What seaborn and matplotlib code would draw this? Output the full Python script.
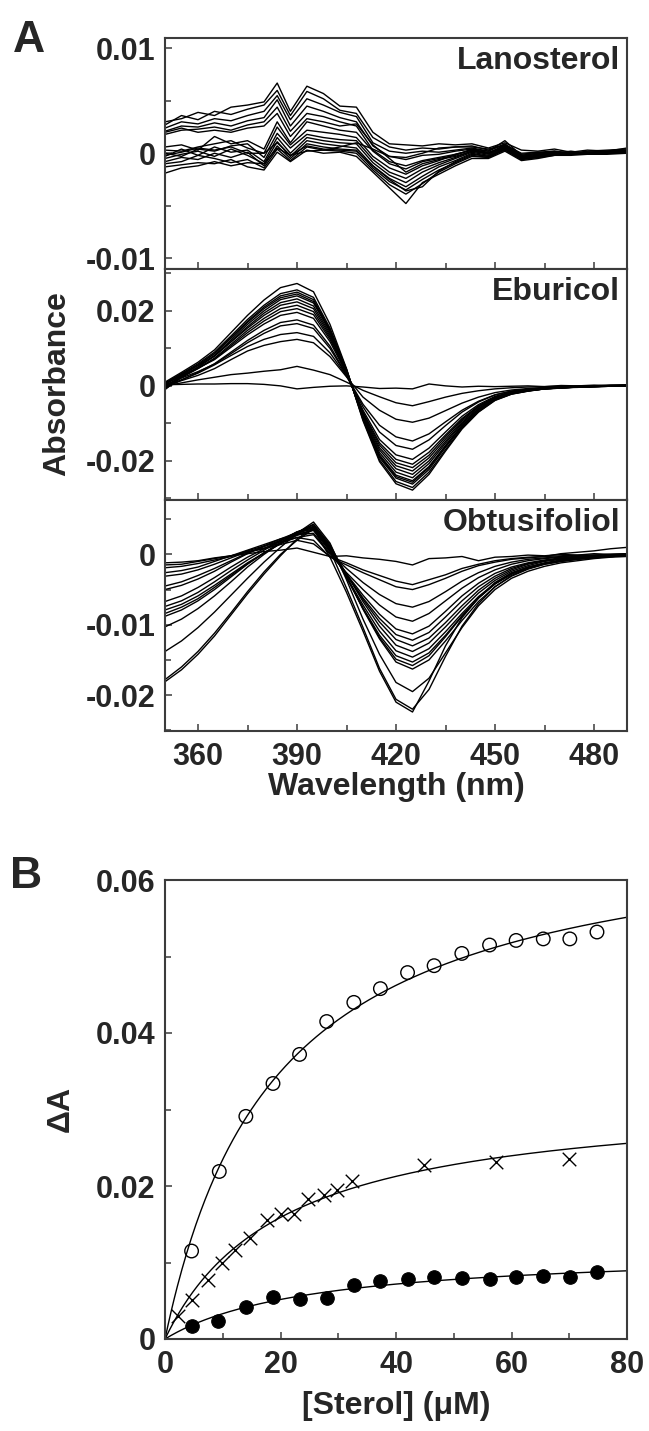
import numpy as np
import pandas as pd
import seaborn as sns
import matplotlib.pyplot as plt
from matplotlib.ticker import MultipleLocator, FuncFormatter

sns.set_style('ticks')
plt.rcParams['font.family'] = ['Liberation Sans', 'DejaVu Sans']
plt.rcParams['font.weight'] = 'bold'
plt.rcParams['axes.labelweight'] = 'bold'
plt.rcParams['axes.unicode_minus'] = False

# ---- panel A: difference spectra (values in mAbs) ----
lano_wl = [350, 355, 360, 365, 370, 375, 380, 384, 388, 393, 398, 403, 408, 413, 418,
           423, 428, 433, 438, 443, 448, 453, 458, 463, 468, 473, 478, 484, 490]
lano_curves = [
    [3.0, 3.3, 3.9, 3.6, 4.4, 4.6, 4.9, 6.7, 4.0, 6.4, 5.7, 4.5, 4.4, 2.0, 0.9, 0.8, 0.7, 0.9, 0.8, 0.9, 0.5, 1.0, 0.3, 0.2, 0.4, 0.1, 0.3, 0.2, 0.5],
    [2.7, 3.6, 3.2, 4.0, 3.7, 4.2, 4.6, 6.0, 3.6, 5.9, 5.2, 4.1, 3.8, 1.5, 0.6, 0.3, 0.5, 0.4, 0.6, 0.7, 0.3, 0.8, 0.0, 0.1, 0.2, 0.0, 0.2, 0.3, 0.4],
    [2.4, 3.0, 2.8, 3.3, 3.1, 3.6, 4.0, 5.5, 3.2, 5.2, 4.6, 3.9, 3.5, 1.0, 0.2, 0.0, 0.2, 0.1, 0.3, 0.5, 0.2, 0.9, -0.2, 0.0, 0.1, -0.1, 0.1, 0.2, 0.3],
    [2.1, 2.6, 2.5, 2.9, 2.6, 3.1, 3.4, 5.1, 2.6, 4.5, 4.0, 3.4, 3.0, 0.7, -0.3, -0.6, -0.2, -0.1, 0.2, 0.4, 0.0, 0.7, -0.3, -0.1, 0.0, 0.1, 0.0, 0.1, 0.2],
    [1.8, 2.2, 2.3, 2.5, 2.2, 2.7, 3.0, 4.4, 2.1, 3.8, 3.5, 3.0, 2.6, 0.3, -0.8, -1.2, -0.7, -0.4, -0.1, 0.3, 0.1, 0.6, -0.4, -0.2, 0.1, -0.1, 0.1, 0.0, 0.2],
    [2.0, 2.4, 2.0, 2.2, 2.0, 2.4, 2.6, 3.8, 1.6, 3.3, 3.0, 2.6, 2.8, 0.8, -0.5, -1.8, -1.0, -0.6, -0.3, 0.2, 0.0, 0.5, -0.5, -0.3, 0.0, 0.0, -0.1, 0.1, 0.1],
    [0.6, 0.8, 0.3, 1.6, 0.9, 1.2, 0.4, 3.0, 1.0, 3.0, 2.6, 2.2, 2.0, 0.2, -1.0, -1.5, -0.8, -0.5, -0.2, 0.4, 0.2, 1.2, -0.2, 0.0, 0.2, 0.0, 0.1, 0.2, 0.3],
    [0.3, 0.2, 0.6, 0.9, 1.2, 0.5, 0.0, 2.5, 0.8, 2.2, 2.0, 1.8, 1.5, -0.3, -1.4, -2.0, -1.2, -0.7, -0.1, 0.3, 0.0, 0.8, -0.3, -0.1, 0.0, 0.1, 0.0, 0.0, 0.2],
    [0.0, -0.3, 0.4, 0.2, 0.7, 0.9, -0.4, 1.9, 0.5, 1.8, 1.5, 1.3, 1.2, -0.6, -1.8, -2.4, -1.5, -0.9, -0.4, 0.2, -0.1, 0.7, -0.4, -0.2, 0.1, 0.0, -0.1, 0.1, 0.1],
    [-0.3, 0.4, -0.2, 0.6, 0.1, 0.3, -0.8, 1.5, 0.0, 1.5, 1.2, 1.0, 0.9, -0.9, -2.1, -2.8, -1.8, -1.1, -0.5, 0.1, -0.2, 0.6, -0.4, -0.3, 0.0, -0.1, 0.0, 0.0, 0.2],
    [-0.5, -0.1, 0.2, -0.3, 0.4, -0.2, -1.0, 1.1, -0.3, 1.2, 0.9, 0.7, 0.5, -1.2, -2.4, -3.2, -2.2, -1.3, -0.7, 0.0, -0.3, 0.5, -0.5, -0.3, -0.1, 0.0, -0.1, 0.1, 0.1],
    [-0.8, -0.4, -0.6, 0.0, -0.4, 0.1, -1.2, 0.7, -0.5, 0.9, 0.6, 0.4, 0.3, -1.4, -2.7, -3.5, -2.5, -1.6, -0.9, -0.2, -0.4, 0.4, -0.6, -0.4, -0.1, -0.1, 0.0, 0.0, 0.1],
    [-1.0, -0.8, -0.2, -0.5, -0.9, -0.6, -1.4, 0.4, -0.7, 0.6, 0.3, 0.2, 0.0, -1.6, -3.0, -3.9, -2.9, -1.8, -1.0, -0.3, -0.4, 0.3, -0.6, -0.4, -0.2, -0.1, -0.1, 0.0, 0.0],
    [-1.3, -1.1, -0.9, -1.0, -0.6, -1.3, -1.6, 0.1, -0.8, 0.3, 0.0, 0.1, -0.3, -1.8, -3.3, -4.8, -2.8, -2.0, -1.2, -0.5, -0.5, 0.2, -0.7, -0.5, -0.2, -0.2, -0.1, -0.1, 0.0],
    [-1.9, -1.4, -1.2, -0.8, -1.2, -0.9, -1.0, 0.5, -0.2, 0.7, 0.4, 0.3, 0.2, -1.2, -2.5, -3.6, -3.2, -1.7, -0.8, -0.1, -0.3, 0.4, -0.5, -0.3, -0.1, 0.0, -0.1, 0.0, 0.1],
    [-0.2, 0.1, 0.5, 0.3, 0.6, 0.0, 0.0, 1.0, -0.2, 0.2, 0.3, 0.6, 1.0, 0.4, -0.3, -0.4, 0.0, 0.5, 0.6, 0.6, 0.4, 0.8, -0.1, 0.1, 0.0, 0.2, 0.0, 0.1, 0.2],
]

ebu_wl = [350, 355, 360, 365, 370, 375, 380, 385, 390, 395, 400, 405, 410, 415, 420,
          425, 430, 435, 440, 445, 450, 455, 460, 465, 470, 475, 480, 485, 490]
ebu_curves = [
    [0.3, 0.4, 0.5, 0.5, 0.6, 0.6, 0.4, 0.0, -0.8, -0.4, -0.1, 0.0, -0.3, -0.7, -0.6, -0.8, 0.5, 0.0, -0.3, -0.1, -0.2, -0.1, 0.0, -0.2, 0.1, 0.0, 0.2, 0.1, 0.1],
    [0.0, 0.8, 1.6, 2.3, 3.0, 3.4, 3.9, 4.3, 5.2, 4.2, 3.0, 1.0, -1.2, -2.9, -4.5, -5.3, -4.2, -3.0, -2.0, -1.3, -0.8, -0.5, -0.3, -0.2, -0.1, 0.0, 0.0, 0.1, 0.0],
    [0.1, 1.4, 2.8, 4.6, 7.0, 9.3, 10.8, 11.8, 12.4, 11.5, 7.8, 2.4, -3.0, -6.5, -8.9, -9.7, -8.6, -6.6, -4.6, -3.0, -1.8, -1.1, -0.7, -0.4, -0.3, -0.2, -0.1, 0.0, 0.0],
    [-0.4, 1.6, 3.4, 5.6, 8.1, 10.5, 12.4, 13.7, 14.2, 13.2, 8.8, 2.6, -4.9, -10.5, -13.6, -14.7, -12.8, -9.6, -6.5, -4.1, -2.4, -1.4, -0.9, -0.6, -0.4, -0.3, -0.2, -0.1, 0.0],
    [0.2, 2.1, 3.8, 5.8, 8.6, 11.5, 14.0, 16.0, 16.6, 15.3, 10.0, 2.8, -5.6, -12.3, -15.9, -16.9, -14.4, -10.6, -7.0, -4.3, -2.4, -1.4, -0.9, -0.5, -0.3, -0.2, -0.1, 0.0, 0.1],
    [-0.6, 1.6, 3.6, 5.9, 9.0, 12.1, 14.8, 16.9, 17.6, 16.2, 10.6, 3.0, -6.5, -14.3, -18.4, -19.6, -16.6, -12.3, -8.1, -5.0, -2.8, -1.6, -1.0, -0.6, -0.4, -0.3, -0.2, -0.1, 0.0],
    [0.5, 2.7, 4.7, 7.0, 10.3, 13.6, 16.5, 18.8, 19.6, 18.0, 11.8, 3.3, -7.0, -15.2, -19.6, -20.9, -17.7, -13.1, -8.7, -5.3, -3.0, -1.7, -1.1, -0.6, -0.4, -0.2, -0.1, 0.0, -0.1],
    [-0.2, 2.5, 4.7, 7.2, 10.7, 14.2, 17.3, 19.8, 20.6, 19.0, 12.4, 3.5, -7.3, -15.8, -20.5, -21.8, -18.5, -13.6, -9.0, -5.5, -3.1, -1.8, -1.1, -0.7, -0.4, -0.3, -0.2, 0.0, 0.0],
    [-0.8, 2.2, 4.6, 7.4, 11.1, 14.8, 18.0, 20.6, 21.5, 19.8, 12.9, 3.7, -7.6, -16.5, -21.3, -22.7, -19.2, -14.2, -9.4, -5.7, -3.2, -1.8, -1.1, -0.7, -0.4, -0.2, -0.1, 0.1, 0.2],
    [0.8, 3.2, 5.4, 8.0, 11.7, 15.4, 18.8, 21.5, 22.4, 20.6, 13.4, 3.8, -7.9, -17.1, -22.1, -23.6, -20.0, -14.8, -9.8, -6.0, -3.3, -1.9, -1.2, -0.7, -0.5, -0.3, -0.2, -0.1, 0.0],
    [-0.3, 2.6, 5.0, 7.9, 11.8, 15.8, 19.4, 22.2, 23.2, 21.3, 13.9, 3.9, -8.2, -17.8, -23.0, -24.5, -20.7, -15.3, -10.1, -6.2, -3.5, -2.0, -1.2, -0.8, -0.6, -0.3, -0.2, 0.0, 0.1],
    [-1.0, 2.4, 5.0, 8.1, 12.2, 16.4, 20.0, 23.0, 24.0, 22.1, 14.4, 4.1, -8.4, -18.4, -23.8, -25.3, -21.5, -15.9, -10.5, -6.4, -3.6, -2.0, -1.3, -0.8, -0.5, -0.4, -0.2, -0.1, 0.0],
    [0.3, 3.0, 5.6, 8.6, 12.7, 16.9, 20.6, 23.5, 24.5, 22.5, 14.7, 4.2, -8.6, -18.7, -24.2, -25.7, -21.8, -16.1, -10.7, -6.5, -3.6, -2.1, -1.3, -0.8, -0.5, -0.3, -0.2, 0.0, -0.1],
    [-0.5, 2.8, 5.5, 8.6, 12.9, 17.2, 21.0, 24.0, 25.0, 23.0, 15.0, 4.3, -8.7, -19.1, -24.6, -26.2, -22.3, -16.4, -10.9, -6.6, -3.7, -2.1, -1.3, -0.8, -0.5, -0.3, -0.1, 0.0, 0.1],
    [0.6, 3.3, 5.9, 9.0, 13.3, 17.7, 21.5, 24.6, 25.6, 23.6, 15.4, 4.4, -9.0, -19.7, -25.5, -27.1, -23.0, -17.0, -11.2, -6.9, -3.8, -2.2, -1.4, -0.8, -0.5, -0.3, -0.1, 0.1, 0.2],
    [1.0, 3.6, 6.3, 9.6, 14.2, 18.8, 22.9, 26.2, 27.3, 25.1, 16.4, 4.6, -9.3, -20.2, -26.1, -27.8, -23.6, -17.4, -11.5, -7.0, -3.9, -2.2, -1.4, -0.8, -0.6, -0.3, 0.0, 0.2, 0.3],
]

obt_wl = ebu_wl
obt_curves = [
    [-1.2, -1.1, -0.9, -0.5, -0.2, 0.1, 0.4, 0.6, 0.9, 0.3, -0.3, -0.2, -0.5, -0.7, -1.0, -1.5, -0.6, -0.5, -0.3, -0.9, -0.4, -0.3, -0.1, -0.2, 0.0, -0.1, 0.1, 0.0, 0.1],
    [-1.5, -1.4, -1.0, -0.6, -0.2, 0.3, 0.8, 1.4, 2.0, 1.5, -0.3, -1.2, -2.2, -3.0, -3.8, -4.3, -3.6, -2.9, -2.0, -1.4, -0.9, -0.6, -0.4, -0.3, 0.1, 0.3, 0.5, 0.8, 1.0],
    [-1.9, -1.7, -1.3, -0.8, -0.3, 0.5, 1.2, 1.8, 2.4, 2.0, -0.4, -1.5, -2.6, -3.6, -4.6, -5.0, -4.3, -3.4, -2.4, -1.6, -1.1, -0.7, -0.5, -0.3, -0.2, -0.1, -0.1, 0.0, 0.1],
    [-2.6, -2.3, -1.8, -1.0, -0.2, 0.6, 1.4, 2.2, 2.8, 3.0, 0.2, -2.0, -4.0, -5.7, -7.0, -7.5, -6.7, -5.3, -3.8, -2.6, -1.7, -1.1, -0.7, -0.5, -0.3, -0.2, -0.1, 0.0, 0.0],
    [-3.1, -2.8, -2.2, -1.4, -0.5, 0.4, 0.9, 1.6, 2.4, 2.8, 0.0, -2.6, -5.0, -7.2, -8.9, -9.5, -8.4, -6.6, -4.8, -3.3, -2.2, -1.4, -0.9, -0.6, -0.4, -0.3, -0.2, -0.1, 0.0],
    [-4.5, -3.9, -3.0, -2.0, -0.9, 0.2, 1.1, 2.0, 2.9, 3.4, 0.4, -2.8, -5.8, -8.5, -10.6, -11.3, -10.2, -8.1, -5.9, -4.1, -2.7, -1.8, -1.2, -0.8, -0.5, -0.4, -0.3, -0.2, -0.1],
    [-5.0, -4.4, -3.5, -2.4, -1.1, 0.1, 1.2, 2.2, 3.1, 3.6, 0.6, -2.9, -6.2, -9.1, -11.4, -12.2, -11.1, -8.9, -6.6, -4.6, -3.1, -2.0, -1.3, -0.9, -0.6, -0.4, -0.3, -0.2, -0.1],
    [-6.7, -5.9, -4.7, -3.3, -1.8, -0.4, 0.8, 2.0, 3.2, 3.8, 0.9, -2.8, -6.4, -9.6, -12.1, -13.0, -11.9, -9.7, -7.3, -5.1, -3.4, -2.2, -1.4, -0.9, -0.6, -0.4, -0.3, -0.2, -0.1],
    [-7.4, -6.6, -5.4, -3.9, -2.3, -0.8, 0.6, 1.9, 3.2, 4.0, 1.1, -2.8, -6.7, -10.2, -12.9, -13.8, -12.6, -10.3, -7.8, -5.5, -3.7, -2.4, -1.6, -1.0, -0.7, -0.5, -0.3, -0.2, -0.1],
    [-7.9, -7.1, -5.9, -4.4, -2.8, -1.2, 0.2, 1.5, 2.7, 3.5, 0.8, -3.2, -7.2, -10.9, -13.7, -14.6, -13.4, -11.0, -8.4, -6.0, -4.1, -2.7, -1.8, -1.2, -0.8, -0.5, -0.4, -0.3, -0.2],
    [-8.4, -7.5, -6.3, -4.7, -3.0, -1.3, 0.2, 1.6, 2.9, 3.9, 1.0, -3.3, -7.6, -11.5, -14.4, -15.3, -14.0, -11.5, -8.7, -6.2, -4.2, -2.8, -1.9, -1.3, -0.9, -0.6, -0.4, -0.3, -0.2],
    [-8.8, -7.9, -6.6, -5.0, -3.2, -1.4, 0.2, 1.7, 3.1, 4.2, 1.2, -3.2, -7.7, -11.8, -14.9, -15.8, -14.4, -11.7, -8.8, -6.2, -4.2, -2.8, -1.9, -1.3, -0.9, -0.6, -0.4, -0.3, -0.2],
    [-10.3, -9.2, -7.7, -5.9, -3.9, -1.8, 0.0, 1.6, 3.1, 4.3, 1.4, -3.1, -7.8, -12.0, -15.3, -16.3, -15.0, -12.3, -9.4, -6.7, -4.6, -3.1, -2.1, -1.4, -1.0, -0.7, -0.5, -0.3, -0.2],
    [-13.8, -12.3, -10.4, -8.2, -5.8, -3.4, -1.1, 1.0, 3.0, 4.6, 1.6, -3.6, -9.2, -14.2, -18.2, -19.5, -17.6, -14.0, -10.4, -7.3, -5.0, -3.4, -2.4, -1.7, -1.2, -0.9, -0.6, -0.4, -0.3],
    [-18.1, -16.4, -14.2, -11.6, -8.6, -5.6, -2.8, -0.2, 2.2, 3.8, 0.6, -4.8, -10.4, -16.2, -20.6, -22.0, -19.2, -14.5, -10.2, -7.0, -4.6, -3.0, -2.0, -1.4, -1.0, -0.7, -0.5, -0.3, -0.2],
    [-17.8, -16.0, -13.8, -11.2, -8.3, -5.3, -2.5, 0.0, 2.0, 3.6, -0.4, -5.4, -10.9, -16.6, -21.0, -22.4, -18.0, -13.0, -9.0, -6.2, -4.0, -2.6, -1.8, -1.3, -0.9, -0.6, -0.4, -0.2, -0.1],
]

panel_names = ['Lanosterol', 'Eburicol', 'Obtusifoliol']

# ---- panel B: titration points ----
open_conc = [4.6, 9.4, 14.0, 18.7, 23.3, 28.0, 32.7, 37.3, 42.0, 46.6, 51.4, 56.2, 60.8, 65.5, 70.1, 74.8]
open_dA = [0.0115, 0.0219, 0.0291, 0.0334, 0.0372, 0.0415, 0.0440, 0.0458, 0.0479, 0.0488,
           0.0504, 0.0515, 0.0521, 0.0523, 0.0523, 0.0532]
filled_conc = [4.6, 9.2, 14.0, 18.7, 23.3, 28.0, 32.7, 37.3, 42.0, 46.6, 51.4, 56.2, 60.8, 65.5, 70.1, 74.8]
filled_dA = [0.0017, 0.0024, 0.0042, 0.0055, 0.0052, 0.0054, 0.0071, 0.0076, 0.0078, 0.0081,
             0.0080, 0.0079, 0.0081, 0.0083, 0.0081, 0.0087]
cross_conc = [2.2, 4.7, 7.4, 9.9, 12.2, 14.7, 17.6, 20.0, 22.3, 24.8, 27.5, 29.8, 32.3, 44.8, 57.4, 69.9]
cross_dA = [0.0030, 0.0051, 0.0077, 0.0099, 0.0116, 0.0132, 0.0155, 0.0164, 0.0164, 0.0183,
            0.0188, 0.0195, 0.0207, 0.0227, 0.0232, 0.0235]


def spectra_frame(wl, curves):
    rows = []
    for i, c in enumerate(curves):
        for w, a in zip(wl, c):
            rows.append((i, w, a / 1000.0))
    return pd.DataFrame(rows, columns=['curve', 'wl', 'A'])


def mm_fit(conc, dA):
    # least squares hyperbola: dA = Amax * c / (Kd + c)
    c = np.asarray(conc)
    y = np.asarray(dA)
    best = None
    for kd in np.linspace(0.5, 120, 2400):
        f = c / (kd + c)
        amax = (f @ y) / (f @ f)
        sse = np.sum((y - amax * f) ** 2)
        if best is None or sse < best[0]:
            best = (sse, kd, amax)
    return best[1], best[2]


def tick_fmt(v, pos):
    if abs(v) < 1e-9:
        return '0'
    return f'{v:.2f}'


def style_axes(ax):
    for s in ax.spines.values():
        s.set_linewidth(1.5)
        s.set_color('#3c3c3c')
    ax.tick_params(which='both', direction='in', top=False, right=False,
                   color='#3c3c3c', width=1.1)
    ax.tick_params(which='major', length=5, labelsize=22, pad=7)
    ax.tick_params(which='minor', length=4)


W, H = 649, 1431
fig = plt.figure(figsize=(W / 100, H / 100), dpi=100)
left, right = 165, 627


def add_ax(top, bottom):
    return fig.add_axes([left / W, 1 - bottom / H, (right - left) / W, (bottom - top) / H])


bounds = [(38, 268.5), (268.5, 499.5), (499.5, 731)]
ylims = [(-0.011, 0.011), (-0.0303, 0.0313), (-0.0251, 0.0078)]
major = [0.01, 0.02, 0.01]
minor = [0.005, 0.01, 0.005]
data = [(lano_wl, lano_curves), (ebu_wl, ebu_curves), (obt_wl, obt_curves)]

for k in range(3):
    ax = add_ax(*bounds[k])
    df = spectra_frame(*data[k])
    sns.lineplot(data=df, x='wl', y='A', units='curve', estimator=None,
                 color='black', linewidth=1.0, ax=ax, legend=False)
    ax.set_xlim(350, 490)
    ax.set_ylim(*ylims[k])
    ax.xaxis.set_major_locator(MultipleLocator(30))
    ax.xaxis.set_minor_locator(MultipleLocator(15))
    ax.yaxis.set_major_locator(MultipleLocator(major[k]))
    ax.yaxis.set_minor_locator(MultipleLocator(minor[k]))
    ax.yaxis.set_major_formatter(FuncFormatter(tick_fmt))
    style_axes(ax)
    ax.set_ylabel('')
    ax.text(0.985, 0.965, panel_names[k], transform=ax.transAxes, ha='right', va='top',
            fontsize=23, fontweight='bold')
    if k < 2:
        ax.tick_params(labelbottom=False)
        ax.set_xlabel('')
    else:
        ax.tick_params(axis='x', pad=8)
        ax.set_xlabel('Wavelength (nm)', fontsize=23, labelpad=0)

fig.text(57 / W, 1 - 384 / H, 'Absorbance', rotation=90, ha='center', va='center',
         fontsize=23, fontweight='bold')
fig.text(29 / W, 1 - 40 / H, 'A', ha='center', va='center', fontsize=32, fontweight='bold')

# ---- panel B ----
axb = add_ax(880, 1339)
cfit = np.linspace(0, 80, 300)
for conc, dA in [(open_conc, open_dA), (cross_conc, cross_dA), (filled_conc, filled_dA)]:
    kd, amax = mm_fit(conc, dA)
    sns.lineplot(x=cfit, y=amax * cfit / (kd + cfit), color='black', linewidth=1.0, ax=axb)

sns.scatterplot(x=open_conc, y=open_dA, marker='o', s=95, facecolors='none',
                edgecolor='black', linewidth=1.0, ax=axb, zorder=3)
sns.scatterplot(x=cross_conc, y=cross_dA, marker='x', s=95, color='black',
                linewidth=1.0, ax=axb, zorder=3)
sns.scatterplot(x=filled_conc, y=filled_dA, marker='o', s=95, color='black',
                edgecolor='black', ax=axb, zorder=3)

axb.set_xlim(0, 80)
axb.set_ylim(0, 0.06)
axb.xaxis.set_major_locator(MultipleLocator(20))
axb.xaxis.set_minor_locator(MultipleLocator(10))
axb.yaxis.set_major_locator(MultipleLocator(0.02))
axb.yaxis.set_minor_locator(MultipleLocator(0.01))
axb.yaxis.set_major_formatter(FuncFormatter(tick_fmt))
style_axes(axb)
axb.tick_params(axis='x', pad=8)
axb.set_xlabel('[Sterol] (μM)', fontsize=23, labelpad=8)
fig.text(61 / W, 1 - 1109 / H, 'ΔA', rotation=90, ha='center', va='center',
         fontsize=23, fontweight='bold')
fig.text(26 / W, 1 - 876 / H, 'B', ha='center', va='center', fontsize=32, fontweight='bold')

fig.savefig('out.png', dpi=100)
plt.close(fig)
